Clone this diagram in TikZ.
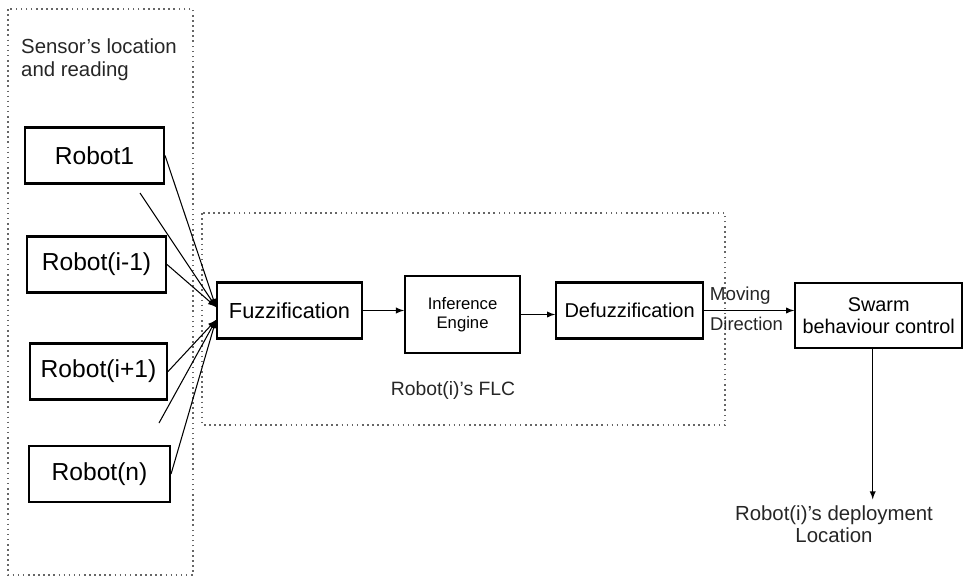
\documentclass[tikz,border=0pt]{standalone}
\usepackage{fontspec}
\setmainfont{Liberation Sans}
\usepackage{tikz}
\usetikzlibrary{positioning}

\begin{document}
\begin{tikzpicture}[x=0.02cm, y=-0.02cm, >=latex,
                          robotnode/.style={rectangle, draw, line width=1.2pt, minimum width=2.78cm, minimum height=1.12cm, font=\fontsize{14}{16}\selectfont},
                          flcnode/.style={rectangle, draw, line width=1.2pt, minimum height=1.12cm, align=center},
                          groupbox/.style={draw=black!60, dotted, line width=0.9pt},
                          plaintext/.style={text=black!85, align=center},
                          inputline/.style={->, line width=0.6pt},
                      ]
                      \useasboundingbox (0,0) rectangle (963,578);

                      % Dotted groups
                      \draw[groupbox] (8,9) rectangle (193,575);
                      \draw[groupbox] (202,213) rectangle (725,425);

                      % Nodes
                      \node[plaintext, anchor=north west, align=left, font=\fontsize{11.6}{13}\selectfont] (sensors) at (15,33) {Sensor’s location\\and reading};

                      \node[robotnode]        (robot_1)     at (94.5,155.5)   {Robot1};
                      \node[robotnode]        (robot_im1)   at (96.5,264.5)   {Robot(i-1)};
                      \node[robotnode, minimum width=2.74cm] (robot_ip1) at (98.5,371.5) {Robot(i+1)};
                      \node[robotnode, minimum width=2.82cm] (robot_n)   at (99.5,474)   {Robot(n)};
                      \coordinate             (more_1)      at (140,193);
                      \coordinate             (more_2)      at (159,423);

                      \node[flcnode, minimum width=2.9cm, font=\fontsize{12.4}{14}\selectfont]  (fuzz)      at (289.5,310.5)           {Fuzzification};
                      \node[flcnode, minimum width=2.3cm, minimum height=1.54cm, font=\fontsize{9.5}{10.8}\selectfont] (inference) [right=0.82cm of fuzz, yshift=-0.08cm] {Inference\\Engine};
                      \node[flcnode, minimum width=2.94cm, font=\fontsize{11.4}{13}\selectfont] (defuzz)    [right=0.68cm of fuzz.east -| inference.east, anchor=west] {Defuzzification};
                      \node[flcnode, minimum width=3.34cm, minimum height=1.3cm, font=\fontsize{11.3}{12.5}\selectfont] (swarm) [right=1.8cm of defuzz, yshift=-0.1cm] {Swarm\\behaviour control};

                      \node[plaintext, font=\fontsize{11}{13}\selectfont]        (flc_label)   at (453,390)      {Robot(i)’s FLC};
                      \node[plaintext, font=\fontsize{11.6}{12.5}\selectfont]    (deployment)  at (834,524)      {Robot(i)’s deployment\\Location};

                      %Lines
                      \draw[inputline] (robot_1.east)   -- ([yshift=0.07cm]fuzz.west);
                      \draw[inputline] (more_1)         -- ([yshift=0.07cm]fuzz.west);
                      \draw[inputline] (robot_im1.east) -- ([yshift=0.07cm]fuzz.west);
                      \draw[inputline] (robot_ip1.east) -- ([yshift=-0.19cm]fuzz.west);
                      \draw[inputline] (more_2)         -- ([yshift=-0.19cm]fuzz.west);
                      \draw[inputline] (robot_n.east)   -- ([yshift=-0.19cm]fuzz.west);
                      \draw[inputline] (fuzz.east) -- (fuzz.east -| inference.west);
                      \draw[inputline] (inference.west -| inference.east) -- (inference.east -| defuzz.west);
                      \draw[inputline] (defuzz.east) -- (defuzz.east -| swarm.west)
                          node[pos=0.4, above, plaintext, font=\fontsize{10.7}{12}\selectfont] {Moving}
                          node[pos=0.47, below, plaintext, font=\fontsize{10.5}{12}\selectfont] {Direction};
                      \draw[inputline] ([xshift=-0.12cm]swarm.south) -- ([xshift=-0.12cm]swarm.south |- deployment.north);
                  \end{tikzpicture}
\end{document}
